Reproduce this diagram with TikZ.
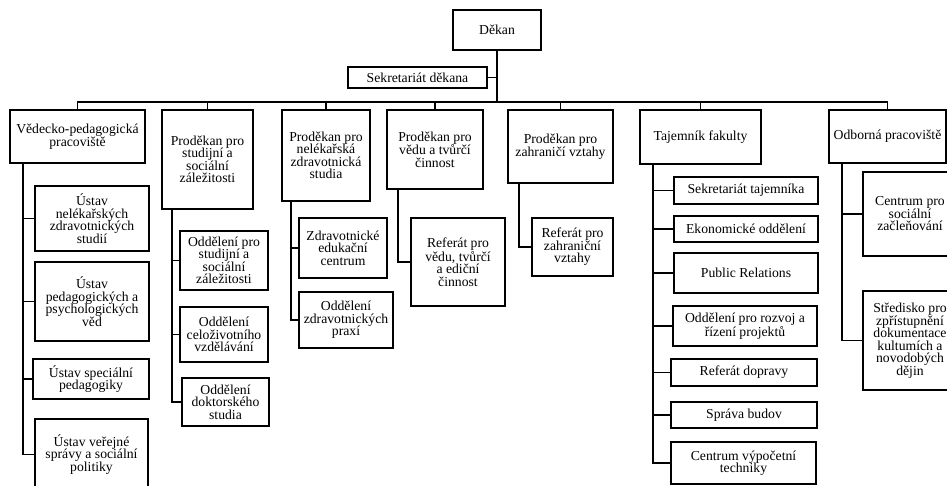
\documentclass[tikz,border=0pt]{standalone}
\usepackage{fontspec}
\setmainfont{Liberation Serif}
\tikzset{
  bx/.style={draw, line width=1.2pt, inner sep=0pt, align=center,
    font=\fontsize{13.7}{12.5}\selectfont},
  ln/.style={line width=1.2pt}
}
\newcommand\obox[6]{\node[bx,minimum width={(#4-#2)*1pt},minimum height={(#5-#3)*1pt}] (#1) at ({(#2+#4)/2},{(#3+#5)/2}) {#6};}
\begin{document}
\begin{tikzpicture}[x=1pt,y=-1pt]
\useasboundingbox (0,0) rectangle (947,486);
\clip (0,0) rectangle (947,486);
% top
\obox{dek}{453}{10}{541}{50}{Děkan}
\obox{sek}{348}{67}{487}{88}{Sekretariát děkana}
% level 1
\obox{vp}{10}{110}{145}{163}{Vědecko-pedagogická\\pracoviště}
\obox{ps}{162}{110}{253}{209}{Proděkan pro\\studijní a\\sociální\\záležitosti}
\obox{pn}{282}{110}{370}{201}{Proděkan pro\\nelékařská\\zdravotnická\\studia}
\obox{pv}{387}{110}{483}{189}{Proděkan pro\\vědu a tvůrčí\\činnost}
\obox{pz}{508}{110}{613}{183}{Proděkan pro\\zahraničí vztahy}
\obox{tf}{640}{110}{761}{164}{Tajemník fakulty}
\obox{od}{829}{110}{946}{163}{Odborná pracoviště}
% children
\obox{u1}{35}{186}{149}{251}{Ústav\\nelékařských\\zdravotnických\\studií}
\obox{u2}{35}{262}{149}{341}{Ústav\\pedagogických a\\psychologických\\věd}
\obox{u3}{33}{359}{149}{399}{Ústav speciální\\pedagogiky}
\obox{u4}{35}{419}{148}{490}{Ústav veřejné\\správy a sociální\\politiky}
\obox{o1}{180}{231}{268}{290}{Oddělení pro\\studijní a\\sociální\\záležitosti}
\obox{o2}{180}{307}{268}{362}{Oddělení\\celoživotního\\vzdělávání}
\obox{o3}{182}{378}{269}{426}{Oddělení\\doktorského\\studia}
\obox{z1}{299}{218}{387}{278}{Zdravotnické\\edukační\\centrum}
\obox{z2}{299}{292}{393}{348}{Oddělení\\zdravotnických\\praxí}
\obox{r1}{411}{218}{505}{306}{Referát pro\\vědu, tvůrčí\\a ediční\\činnost}
\obox{r2}{532}{218}{613}{276}{Referát pro\\zahraniční\\vztahy}
\obox{t1}{674}{177}{818}{204}{Sekretariát tajemníka}
\obox{t2}{674}{216}{818}{242}{Ekonomické oddělení}
\obox{t3}{674}{253}{818}{293}{Public Relations}
\obox{t4}{673}{306}{817}{346}{Oddělení pro rozvoj a\\řízení projektů}
\obox{t5}{671}{359}{817}{386}{Referát dopravy}
\obox{t6}{671}{402}{817}{428}{Správa budov}
\obox{t7}{671}{442}{816}{484}{Centrum výpočetní\\techniky}
\obox{d1}{863}{172}{957}{256}{Centrum pro\\sociální\\začleňování}
\obox{d2}{863}{291}{957}{390}{Středisko pro\\zpřístupnění\\dokumentace\\kultumích a\\novodobých\\dějin}
% coordinates
\coordinate (bus) at (0,102);
\coordinate (s1) at (23,0);
\coordinate (s2) at (172,0);
\coordinate (s3) at (291,0);
\coordinate (s4) at (398,0);
\coordinate (s5) at (519,0);
\coordinate (s6) at (653,0);
\coordinate (s7) at (842,0);
% connectors
\draw[ln] (dek.south) -- (dek.south |- bus);
\draw[ln] (sek.east) -- (sek.east -| dek.south);
\draw[ln] (vp.north) -- (vp.north |- bus) -- (od.north |- bus) -- (od.north);
\foreach \n in {ps,pn,pv,pz,tf} \draw[ln] (\n.north) -- (\n.north |- bus);
\foreach \c in {u1,u2,u3,u4} \draw[ln] (vp.south -| s1) |- (\c.west);
\foreach \c in {o1,o2,o3} \draw[ln] (ps.south -| s2) |- (\c.west);
\foreach \c in {z1,z2} \draw[ln] (pn.south -| s3) |- (\c.west);
\draw[ln] (pv.south -| s4) |- (r1.west);
\draw[ln] (pz.south -| s5) |- (r2.west);
\foreach \c in {t1,t2,t3,t4,t5,t6,t7} \draw[ln] (tf.south -| s6) |- (\c.west);
\foreach \c in {d1,d2} \draw[ln] (od.south -| s7) |- (\c.west);
\end{tikzpicture}
\end{document}
